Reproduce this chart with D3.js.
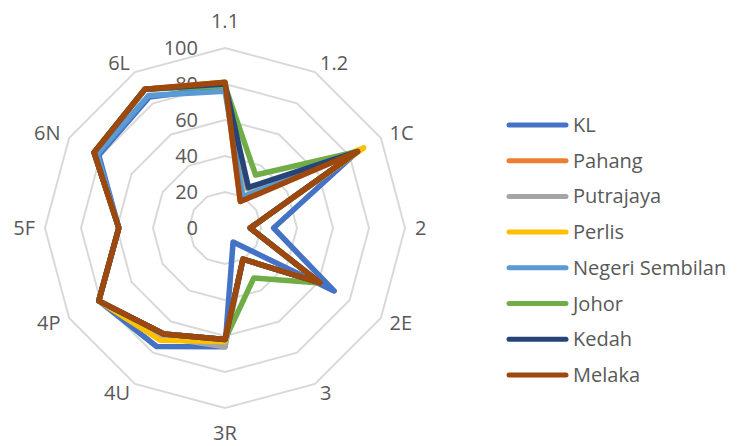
<!DOCTYPE html>
<html>
<head>
<meta charset="utf-8">
<script src="https://cdn.jsdelivr.net/npm/d3@7"></script>
<style>
  body { margin: 0; background: #fff; }
  svg { display: block; font-family: "Open Sans", Lato, sans-serif; }
</style>
</head>
<body>
<svg id="chart" width="755" height="446"></svg>
<script>
const categories = ['1.1', '1.2', '1C', '2', '2E', '3', '3R', '4U', '4P', '5F', '6N', '6L'];
const ticks = [0, 20, 40, 60, 80, 100];

const seriesNames = ['KL', 'Pahang', 'Putrajaya', 'Perlis', 'Negeri Sembilan', 'Johor', 'Kedah', 'Melaka'];
const colors = ['#4472C4', '#ED7D31', '#A5A5A5', '#FFC000', '#5B9BD5', '#70AD47', '#264478', '#9E480E'];

const kl        = [78, 20, 85, 27, 70,  9, 66, 76, 81, 59, 81, 84];
const pahang    = [81, 17, 85, 14, 61, 20, 62, 68, 81, 59, 84, 89];
const putrajaya = [80, 25, 85, 14, 61, 20, 66, 70, 81, 59, 84, 89];
const perlis    = [80, 20, 89, 14, 61, 20, 63, 72, 81, 59, 84, 89];
const negeri    = [76, 20, 85, 14, 61, 20, 62, 68, 81, 59, 82, 85];
const johor     = [79, 34, 85, 14, 61, 32, 62, 68, 81, 59, 84, 89];
const kedah     = [80, 26, 85, 14, 61, 20, 62, 68, 81, 59, 84, 89];
const melaka    = [81, 17, 85, 14, 61, 20, 62, 68, 81, 59, 84, 89];

const series = [kl, pahang, putrajaya, perlis, negeri, johor, kedah, melaka];

const svg = d3.select('#chart');
const cx = 225, cy = 228, radius = 180;
const textColor = '#595959';
const fontSize = '20px';

const r = d3.scaleLinear().domain([0, 100]).range([0, radius]);
const step = 2 * Math.PI / categories.length;
const ang = i => i * step;

const g = svg.append('g').attr('transform', `translate(${cx},${cy})`);

// grid rings (no spokes in the original)
const ringLine = d3.lineRadial().angle((d, i) => ang(i)).radius(d => r(d)).curve(d3.curveLinearClosed);
g.append('g')
  .selectAll('path')
  .data(ticks.filter(t => t > 0))
  .join('path')
  .attr('d', t => ringLine(categories.map(() => t)))
  .attr('fill', 'none')
  .attr('stroke', '#D9D9D9')
  .attr('stroke-width', 2);

// tick labels
g.append('g')
  .selectAll('text')
  .data(ticks)
  .join('text')
  .attr('x', -27)
  .attr('y', t => -r(t))
  .attr('dy', '0.35em')
  .attr('text-anchor', 'end')
  .attr('fill', textColor)
  .style('font-size', fontSize)
  .text(t => t);

// category labels
g.append('g')
  .selectAll('text')
  .data(categories)
  .join('text')
  .each(function (d, i) {
    const a = ang(i);
    const s = Math.sin(a), c = Math.cos(a);
    const el = d3.select(this);
    if (Math.abs(s) < 0.01) {
      const rr = c > 0 ? 207 : 205;
      el.attr('x', 0).attr('y', -c * rr).attr('text-anchor', 'middle');
    } else {
      el.attr('x', s * 190).attr('y', -c * 190).attr('text-anchor', s > 0 ? 'start' : 'end');
    }
  })
  .attr('dy', '0.35em')
  .attr('fill', textColor)
  .style('font-size', fontSize)
  .text(d => d);

// series, later ones drawn on top
g.append('g')
  .selectAll('path')
  .data(series)
  .join('path')
  .attr('d', d => ringLine(d))
  .attr('fill', 'none')
  .attr('stroke', (d, i) => colors[i])
  .attr('stroke-width', 5.5)
  .attr('stroke-linejoin', 'round');

// legend
const legend = svg.append('g').attr('transform', 'translate(507,125)');
const item = legend.selectAll('g')
  .data(seriesNames)
  .join('g')
  .attr('transform', (d, i) => `translate(0,${i * 35.7})`);

item.append('line')
  .attr('x1', 2).attr('x2', 59)
  .attr('stroke', (d, i) => colors[i])
  .attr('stroke-width', 5)
  .attr('stroke-linecap', 'round');

item.append('text')
  .attr('x', 66)
  .attr('dy', '0.35em')
  .attr('fill', textColor)
  .style('font-size', fontSize)
  .text(d => d);
</script>
</body>
</html>
